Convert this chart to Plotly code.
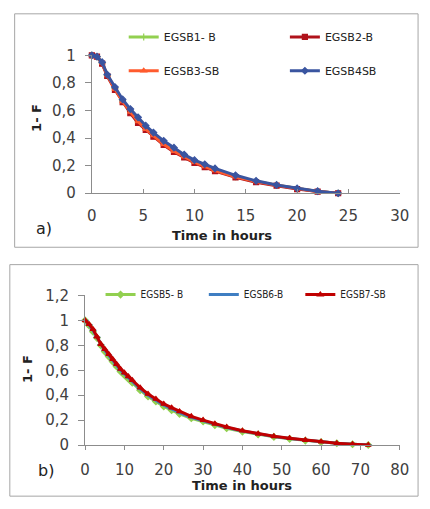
import plotly.graph_objects as go

W, H = 430, 509

# ---------- Panel a data ----------
t_a = [0, 0.5, 1, 1.5, 2.25, 3, 3.75, 4.5, 5.25, 6, 7, 8, 9, 10, 11, 12, 14, 16, 18, 20, 22, 24]
egsb1_b = [1, 0.99, 0.945, 0.855, 0.76, 0.67, 0.595, 0.525, 0.47, 0.425, 0.36, 0.31, 0.27, 0.23, 0.2, 0.17, 0.12, 0.085, 0.058, 0.033, 0.013, 0]
egsb2_b = [1, 0.99, 0.94, 0.85, 0.75, 0.66, 0.58, 0.51, 0.46, 0.41, 0.35, 0.30, 0.26, 0.22, 0.19, 0.16, 0.115, 0.08, 0.055, 0.03, 0.012, 0]
egsb3_sb = [1, 0.99, 0.945, 0.855, 0.755, 0.665, 0.59, 0.52, 0.465, 0.42, 0.355, 0.305, 0.265, 0.225, 0.195, 0.165, 0.12, 0.085, 0.058, 0.033, 0.013, 0]
egsb4_sb = [1, 0.99, 0.95, 0.86, 0.77, 0.68, 0.61, 0.55, 0.49, 0.44, 0.38, 0.33, 0.28, 0.24, 0.21, 0.18, 0.13, 0.09, 0.06, 0.035, 0.015, 0]

# ---------- Panel b data ----------
t_b = [0, 1, 2, 3, 4, 5, 6, 7, 8, 9, 10, 11, 12, 14, 16, 18, 20, 22, 24, 27, 30, 33, 36, 40, 44, 48, 52, 56, 60, 64, 68, 72]
egsb5_b = [1, 0.96, 0.91, 0.86, 0.80, 0.75, 0.71, 0.67, 0.63, 0.59, 0.56, 0.53, 0.50, 0.44, 0.39, 0.35, 0.31, 0.28, 0.25, 0.215, 0.19, 0.16, 0.135, 0.108, 0.085, 0.066, 0.05, 0.036, 0.024, 0.014, 0.006, 0]
egsb6_b = [1, 0.965, 0.92, 0.865, 0.805, 0.76, 0.72, 0.68, 0.64, 0.60, 0.57, 0.54, 0.51, 0.45, 0.40, 0.36, 0.32, 0.29, 0.26, 0.222, 0.195, 0.165, 0.14, 0.112, 0.088, 0.068, 0.052, 0.038, 0.026, 0.015, 0.007, 0]
egsb7_sb = [1, 0.97, 0.93, 0.87, 0.81, 0.77, 0.73, 0.69, 0.65, 0.61, 0.58, 0.55, 0.52, 0.46, 0.41, 0.37, 0.33, 0.30, 0.27, 0.23, 0.20, 0.17, 0.145, 0.115, 0.09, 0.07, 0.055, 0.04, 0.027, 0.015, 0.007, 0]

x_ticks_a = [0, 5, 10, 15, 20, 25, 30]
y_ticks_a = [0, 0.2, 0.4, 0.6, 0.8, 1]
y_text_a = ["0", "0,2", "0,4", "0,6", "0,8", "1"]
x_ticks_b = [0, 10, 20, 30, 40, 50, 60, 70, 80]
y_ticks_b = [0, 0.2, 0.4, 0.6, 0.8, 1, 1.2]
y_text_b = ["0", "0,2", "0,4", "0,6", "0,8", "1", "1,2"]

GREEN = "#92D050"
DARKRED = "#B0121B"
ORANGE = "#FF5B2E"
BLUE_A = "#3A55A0"
BLUE_B = "#3F7EC2"
RED_B = "#C00000"

def px(x):
    return x / W

def py(y):
    return 1 - y / H

fig = go.Figure()

series_a = [
    ("EGSB1- B", egsb1_b, GREEN, "cross-thin", "legend", 126, 29),
    ("EGSB2-B", egsb2_b, DARKRED, "square", "legend2", 293, 29),
    ("EGSB3-SB", egsb3_sb, ORANGE, "triangle-up", "legend3", 126, 64),
    ("EGSB4SB", egsb4_sb, BLUE_A, "diamond", "legend4", 293, 64),
]
for name, ys, col, sym, lg, lx, ly in series_a:
    fig.add_trace(go.Scatter(
        x=t_a, y=ys, name=name, mode="lines+markers",
        line=dict(color=col, width=3),
        marker=dict(symbol=sym, size=5, color=col, line=dict(color=col, width=1.2)),
        xaxis="x", yaxis="y", legend=lg, cliponaxis=False,
    ))

series_b = [
    ("EGSB5- B", egsb5_b, GREEN, "diamond", "legend5", 103, 296),
    ("EGSB6-B", egsb6_b, BLUE_B, "line-ew", "legend6", 210, 296),
    ("EGSB7-SB", egsb7_sb, RED_B, "triangle-up", "legend7", 310, 296),
]
for name, ys, col, sym, lg, lx, ly in series_b:
    fig.add_trace(go.Scatter(
        x=t_b, y=ys, name=name, mode="lines+markers",
        line=dict(color=col, width=3),
        marker=dict(symbol=sym, size=5, color=col, line=dict(color=col, width=1.2)),
        xaxis="x2", yaxis="y2", legend=lg, cliponaxis=False,
    ))

legend_common = dict(bgcolor="rgba(0,0,0,0)", xanchor="left", yanchor="middle",
                     itemwidth=30, tracegroupgap=0, borderwidth=0)
leg_layout = {}
for name, ys, col, sym, lg, lx, ly in series_a:
    leg_layout[lg] = dict(legend_common, x=px(lx - 3), y=py(ly),
                          font=dict(family="DejaVu Sans", size=11, color="#222"))
for name, ys, col, sym, lg, lx, ly in series_b:
    leg_layout[lg] = dict(legend_common, x=px(lx - 4), y=py(ly),
                          font=dict(family="DejaVu Sans Condensed", size=10, color="#222"))

axis_common = dict(showline=True, linecolor="#8C8C8C", linewidth=1, showgrid=False,
                   zeroline=False, ticks="outside", tickcolor="#8C8C8C", ticklen=6,
                   tickfont=dict(family="DejaVu Sans", size=15, color="#404040"))

fig.update_layout(
    width=W, height=H, margin=dict(l=0, r=0, t=0, b=0),
    paper_bgcolor="white", plot_bgcolor="white",
    showlegend=True,
    xaxis=dict(axis_common, domain=[px(90), px(409)], range=[0, 30], tickvals=x_ticks_a,
               anchor="y", ticklabelstandoff=9, ticks="inside", ticklen=4),
    yaxis=dict(axis_common, domain=[py(191), py(48)], range=[0, 1], tickvals=y_ticks_a,
               ticktext=y_text_a, anchor="x", ticklabelstandoff=6),
    xaxis2=dict(axis_common, domain=[px(83), px(409)], range=[0, 80], tickvals=x_ticks_b,
                anchor="y2", ticklabelstandoff=7, ticklen=4),
    yaxis2=dict(axis_common, domain=[py(452), py(297)], range=[0, 1.2], tickvals=y_ticks_b,
                ticktext=y_text_b, anchor="x2", ticklabelstandoff=6),
    **leg_layout,
)

# panel borders
fig.add_shape(type="rect", xref="paper", yref="paper", x0=px(10), x1=px(428), y0=py(247), y1=py(5),
              line=dict(color="#A6A6A6", width=1))
fig.add_shape(type="rect", xref="paper", yref="paper", x0=px(5), x1=px(428), y0=py(505), y1=py(265),
              line=dict(color="#A6A6A6", width=1))

title_font = dict(family="DejaVu Sans", size=13, color="#222")
ann = [
    dict(text="<b>Time in hours</b>", x=px(225), y=py(235), font=title_font),
    dict(text="<b>1- F</b>", x=px(32), y=py(113), font=title_font, textangle=-90),
    dict(text="a)", x=px(40), y=py(228), font=dict(family="DejaVu Sans", size=16, color="#222")),
    dict(text="<b>Time in hours</b>", x=px(246), y=py(494), font=title_font),
    dict(text="<b>1- F</b>", x=px(24), y=py(373), font=title_font, textangle=-90),
    dict(text="b)", x=px(42), y=py(478), font=dict(family="DejaVu Sans", size=16, color="#222")),
]
for a in ann:
    fig.add_annotation(xref="paper", yref="paper", showarrow=False, xanchor="center", yanchor="middle", **a)

fig.write_html("out.html")
